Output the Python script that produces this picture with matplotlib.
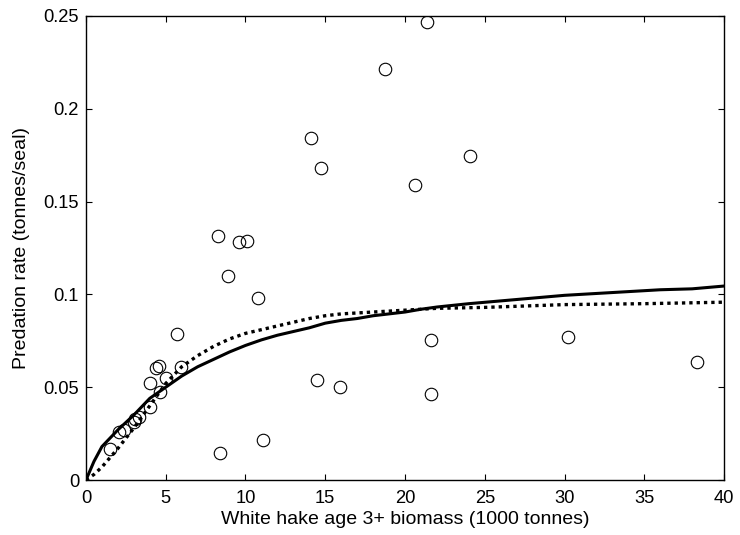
import matplotlib
matplotlib.use("Agg")
import matplotlib.pyplot as plt
from matplotlib.ticker import FuncFormatter

plt.rcParams["font.family"] = ["Liberation Sans", "DejaVu Sans"]
plt.rcParams["font.size"] = 10

# Observed predation rates (open circles)
obs_biomass = [1.5, 2.1, 2.4, 3.0, 3.1, 3.3, 4.0, 4.0, 4.4, 4.6, 5.0, 4.65, 5.95,
               5.7, 8.3, 9.6, 10.1, 8.9, 10.8, 8.4, 11.1, 14.1, 14.75, 14.5,
               15.9, 18.76, 21.4, 20.6, 24.1, 21.6, 21.6, 30.25, 38.3]
obs_rate = [0.0165, 0.026, 0.027, 0.031, 0.033, 0.034, 0.0395, 0.0525, 0.0605,
            0.0612, 0.055, 0.0476, 0.061, 0.0787, 0.1316, 0.128, 0.129, 0.110,
            0.098, 0.0145, 0.0215, 0.184, 0.168, 0.054, 0.050, 0.2216, 0.2468,
            0.159, 0.1745, 0.0755, 0.0465, 0.077, 0.0635]

# Solid fitted curve
solid_x = [0, 0.5, 1, 2, 3, 4, 5, 6, 7, 8, 9, 10, 11, 12, 13, 14, 15, 16, 17,
           18, 19, 20, 21, 22, 24, 26, 28, 30, 32, 34, 36, 38, 40]
solid_y = [0, 0.010, 0.018, 0.027, 0.035, 0.044, 0.050, 0.056, 0.061, 0.065,
           0.069, 0.0725, 0.0755, 0.078, 0.080, 0.082, 0.0845, 0.086, 0.087,
           0.0885, 0.0895, 0.0905, 0.092, 0.0932, 0.095, 0.0965, 0.098, 0.0995,
           0.1005, 0.1015, 0.1025, 0.103, 0.1045]

# Dotted fitted curve
dotted_x = [0, 0.5, 1, 2, 3, 4, 5, 6, 7, 8, 9, 10, 11, 12, 13, 14, 15, 16, 18,
            20, 22, 25, 30, 35, 40]
dotted_y = [0, 0.003, 0.007, 0.017, 0.028, 0.040, 0.052, 0.061, 0.067, 0.072,
            0.076, 0.079, 0.081, 0.083, 0.085, 0.087, 0.0885, 0.0895, 0.0905,
            0.0915, 0.0925, 0.093, 0.0945, 0.095, 0.0958]

fig = plt.figure(figsize=(7.4, 5.35), dpi=100)
ax = fig.add_axes([0.1162, 0.1028, 0.8622, 0.8673])

ax.plot(solid_x, solid_y, color="black", linewidth=2.2, linestyle="-")
ax.plot(dotted_x, dotted_y, color="black", linewidth=2.4, linestyle=(0, (1, 1.2)))
ax.plot(obs_biomass, obs_rate, linestyle="none", marker="o", markersize=9,
        markerfacecolor="none", markeredgecolor="black", markeredgewidth=0.8)

ax.set_xlim(0, 40)
ax.set_ylim(0, 0.25)
ax.set_xticks(range(0, 41, 5))
ax.set_yticks([0, 0.05, 0.1, 0.15, 0.2, 0.25])
ax.yaxis.set_major_formatter(FuncFormatter(lambda v, p: f"{v:g}"))
ax.tick_params(direction="in", top=True, right=True, length=4, width=0.8,
               labelsize=13.2)
ax.tick_params(axis="x", pad=7)
ax.tick_params(axis="y", pad=5)
for s in ax.spines.values():
    s.set_linewidth(1.0)

ax.set_xlabel("White hake age 3+ biomass (1000 tonnes)", fontsize=14, labelpad=3)
ax.set_ylabel("Predation rate (tonnes/seal)", fontsize=14, labelpad=10)

fig.savefig("out.png", dpi=100)
